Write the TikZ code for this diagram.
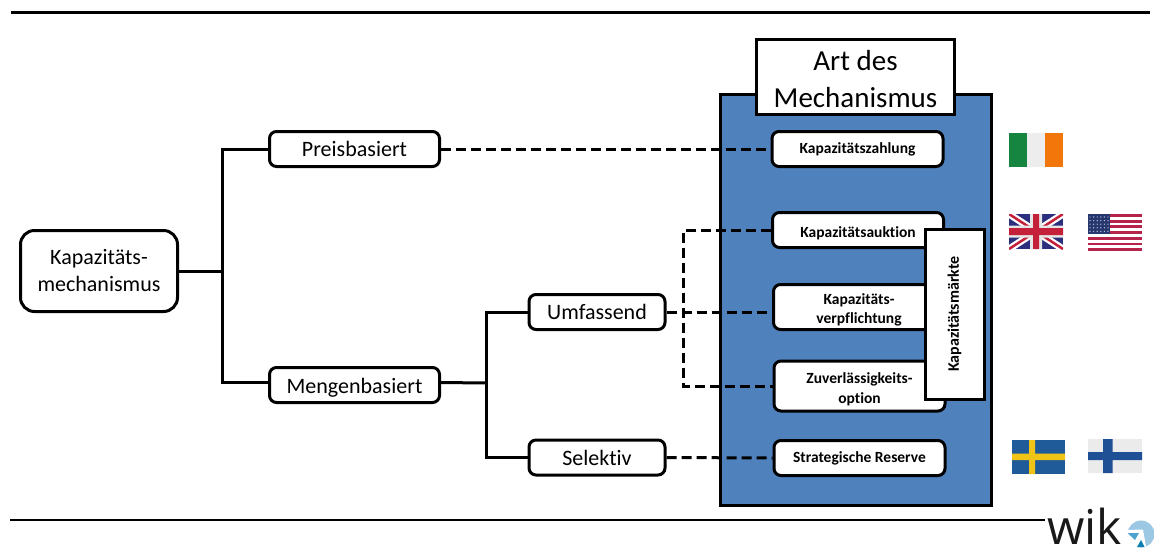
\documentclass[tikz,border=0pt]{standalone}
\usepackage{fontspec}
\setmainfont{Carlito}[Ligatures=CommonOff]
\newfontfamily\logofont{Open Sans}
\definecolor{panelblue}{HTML}{4F81BD}
\newcommand{\dn}[1]{\rule{0pt}{#1}}
\tikzset{
  box/.style={draw=black,line width=3pt,fill=white,rounded corners=7pt,align=center,inner sep=0pt},
  mainbox/.style={box,font=\fontsize{22}{27}\selectfont},
  mechbox/.style={box,font=\fontsize{15.5}{19.5}\selectfont\bfseries},
  tree/.style={line width=3pt,line join=miter},
  dashline/.style={line width=3pt,dash pattern=on 10pt off 5pt},
  rule/.style={line width=2.6pt,black}
}
\begin{document}
\begin{tikzpicture}[x=1pt,y=-1pt]
\useasboundingbox (0,0) rectangle (1154,547);
\coordinate (topL) at (11,12.5); \coordinate (topR) at (1150,12.5);
\coordinate (botL) at (10,520); \coordinate (botR) at (1045,520);
\draw[rule] (topL) -- (topR);
\draw[rule] (botL) -- (botR);
% panel
\node[draw=black,line width=3pt,fill=panelblue,minimum width=271pt,minimum height=411pt,inner sep=0pt] (panel) at (855.5,299.5) {};
\node[draw=black,line width=3pt,fill=white,minimum width=198pt,minimum height=75pt,align=center,inner sep=0pt,font=\fontsize{29}{37}\selectfont] (art) at (855.5,77) {\dn{24pt}Art des\\Mechanismus};
% left nodes
\node[mainbox,rounded corners=14pt,minimum width=157pt,minimum height=81pt] (kap) at (99,271) {Kapazitäts-\\mechanismus};
\node[mainbox,minimum width=170pt,minimum height=35pt] (preis) at (354.5,149) {Preisbasiert};
\node[mainbox,minimum width=170pt,minimum height=35pt] (menge) at (354.5,385) {\dn{20pt}Mengenbasiert};
\node[mainbox,minimum width=136pt,minimum height=35pt] (umf) at (597,312) {Umfassend};
\node[mainbox,minimum width=136pt,minimum height=35pt] (sel) at (597,457.5) {Selektiv};
% mechanism nodes
\node[mechbox,minimum width=171pt,minimum height=35pt] (zahl) at (857.5,149) {Kapazitätszahlung};
\node[mechbox,minimum width=171pt,minimum height=35pt] (aukt) at (858,230) {\dn{17pt}Kapazitätsauktion};
\node[mechbox,minimum width=171pt,minimum height=45pt] (verp) at (859,307) {\dn{17pt}Kapazitäts-\\verpflichtung};
\node[mechbox,minimum width=171pt,minimum height=50pt] (zuv) at (859.5,386) {\dn{17pt}Zuverlässigkeits-\\option};
\node[mechbox,minimum width=171pt,minimum height=35pt] (res) at (859.5,458) {Strategische Reserve};
\node[draw=black,line width=3pt,fill=white,minimum width=59pt,minimum height=170pt,inner sep=0pt] (markt) at (954.5,314) {};
\node[rotate=90,font=\fontsize{16}{18}\selectfont\bfseries] (markttext) at (markt.center) {Kapazitätsmärkte};
% tree connectors
\coordinate (j1) at (222.5,271);
\coordinate (j2) at (486,383);
\draw[tree] (kap.east) -- (j1);
\draw[tree] (preis.west) -| (j1) |- ([yshift=2.5pt]menge.west);
\draw[tree] ([yshift=2.5pt]menge.east) -- (j2);
\draw[tree] (umf.west) -| (j2) |- (sel.west);
% dashed connectors
\coordinate (d1) at (683.5,312);
\draw[dashline] (preis.east) -- (zahl.west);
\draw[dashline] (sel.east) -- (res.west);
\draw[dashline] (umf.east) -- (verp.west |- umf.east);
\draw[dashline] (aukt.west) -| (d1) |- (zuv.west);
% flags
\begin{scope}
 \definecolor{iegreen}{HTML}{15853F}\definecolor{ieorange}{HTML}{F2760A}
 \fill[iegreen] (1009,133) rectangle (1027,167);
 \fill[black!7] (1027,133) rectangle (1045,167);
 \fill[ieorange] (1045,133) rectangle (1063,167);
\end{scope}
\begin{scope}
 \clip (1009,214) rectangle (1063,249);
 \definecolor{ukblue}{HTML}{2B2F7E}\definecolor{ukred}{HTML}{C5203A}
 \fill[ukblue] (1009,214) rectangle (1063,249);
 \draw[white,line width=7pt] (1009,214) -- (1063,249) (1063,214) -- (1009,249);
 \draw[ukred,line width=2.5pt] (1009,214) -- (1063,249) (1063,214) -- (1009,249);
 \fill[white!90!black] (1009,225.5) rectangle (1063,237.5) (1030,214) rectangle (1042,249);
 \fill[ukred] (1009,228) rectangle (1063,235) (1033,214) rectangle (1039,249);
\end{scope}
\begin{scope}
 \definecolor{usred}{HTML}{B5234B}\definecolor{usblue}{HTML}{26366F}
 \clip (1088,214) rectangle (1142,251);
 \fill[white] (1088,214) rectangle (1142,251);
 \foreach \i in {0,2,4,6,8,10,12}{\fill[usred] (1088,214+\i*2.85) rectangle (1142,214+\i*2.85+2.85);}
 \fill[usblue] (1088,214) rectangle (1110,234);
 \foreach \i in {0,...,5}{\foreach \j in {0,...,4}{\fill[white!70!usblue] (1090+\i*3.6,217+\j*3.6) circle (0.7pt);}}
\end{scope}
\begin{scope}
 \definecolor{seblue}{HTML}{1F5A99}\definecolor{seyellow}{HTML}{EFC417}
 \fill[seblue] (1012,440) rectangle (1065,474);
 \fill[seyellow] (1029,440) rectangle (1035,474) (1012,453.5) rectangle (1065,460);
\end{scope}
\begin{scope}
 \definecolor{fiblue}{HTML}{1F4F95}
 \fill[black!8] (1088,439) rectangle (1142,473);
 \fill[fiblue] (1103,439) rectangle (1112.5,473) (1088,452) rectangle (1142,460);
\end{scope}
% logo
\node[font=\fontsize{48}{48}\logofont,anchor=base west,inner sep=0pt,text=black!90] (wik) at (1047,544) {wik};
\begin{scope}
 \definecolor{logolight}{HTML}{9CC8E4}\definecolor{logomid}{HTML}{4FA3D1}\definecolor{logodark}{HTML}{0B7FB0}
 \clip (1127,518) rectangle (1154,547);
 \fill[logolight] (1141,534) circle (13.5pt);
 \fill[white] (1126,530) -- (1143,529.5) -- (1146,547) -- (1130,547) -- cycle;
 \fill[logomid] (1127.5,533) -- (1139,533) -- (1135,540) -- cycle;
 \fill[logodark] (1137,547) -- (1141,540) -- (1144.5,547) -- cycle;
\end{scope}
\end{tikzpicture}
\end{document}
